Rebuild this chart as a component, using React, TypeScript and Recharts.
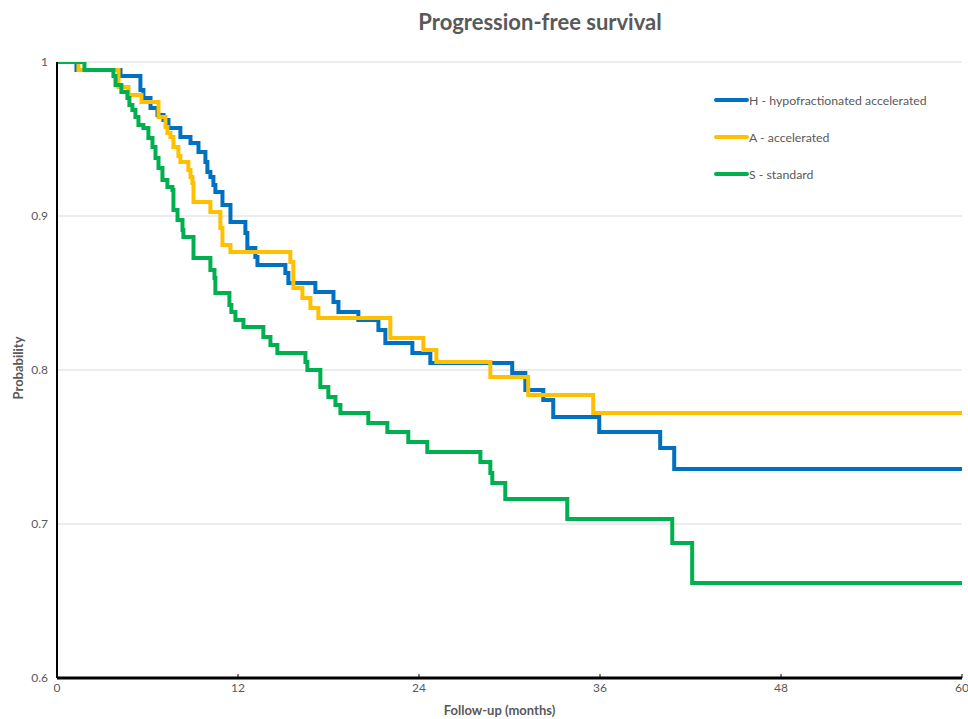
import React from 'react';
import { LineChart, Line, XAxis, YAxis, CartesianGrid } from 'recharts';

const seriesNames = ['H - hypofractionated accelerated', 'A - accelerated', 'S - standard'];
const seriesColors = ['#0070C0', '#FFC000', '#00B050'];

const hMonths = [0, 1.29, 4.21, 5.53, 5.73, 6.2, 6.66, 7.06, 7.39, 8.18, 8.85, 9.38, 9.84, 9.97, 10.17, 10.37, 10.5, 10.97, 11.5, 12.49, 12.62, 13.15, 13.29, 15.14, 15.34, 17.13, 18.33, 18.66, 19.98, 21.31, 21.77, 23.56, 24.75, 30.18, 31.05, 32.24, 32.9, 35.95, 39.99, 40.92, 60];
const hProb = [1, 0.9948, 0.9909, 0.9818, 0.9766, 0.9701, 0.9656, 0.9623, 0.9571, 0.9513, 0.9474, 0.9416, 0.9351, 0.9286, 0.9253, 0.9201, 0.9156, 0.9071, 0.8961, 0.889, 0.8792, 0.8734, 0.8682, 0.863, 0.8565, 0.8506, 0.8442, 0.8377, 0.8325, 0.826, 0.8175, 0.811, 0.8045, 0.7981, 0.787, 0.7805, 0.7695, 0.7597, 0.7494, 0.7357, 0.7357];

const aMonths = [0, 1.42, 4.08, 4.74, 5.6, 6.73, 7.19, 7.32, 7.52, 7.72, 8.05, 8.18, 8.71, 8.85, 8.98, 9.05, 10.17, 10.83, 10.97, 11.5, 15.47, 15.67, 16.27, 16.8, 17.33, 22.1, 24.29, 25.15, 28.73, 31.24, 35.55, 60];
const aProb = [1, 0.9948, 0.9838, 0.9786, 0.974, 0.9643, 0.9578, 0.9539, 0.9513, 0.9448, 0.939, 0.9351, 0.9299, 0.9253, 0.9214, 0.9091, 0.9026, 0.8922, 0.8812, 0.8766, 0.8701, 0.8532, 0.8468, 0.8403, 0.8338, 0.8208, 0.813, 0.8052, 0.7955, 0.7838, 0.7721, 0.7721];

const sMonths = [0, 1.82, 3.74, 3.88, 4.27, 4.67, 4.8, 5.0, 5.2, 5.4, 5.73, 6.06, 6.33, 6.53, 6.73, 6.99, 7.32, 7.65, 7.72, 7.99, 8.32, 8.38, 9.05, 10.17, 10.44, 10.5, 11.43, 11.56, 11.83, 12.36, 13.68, 14.15, 14.61, 16.47, 16.6, 17.46, 17.99, 18.46, 18.79, 20.64, 21.9, 23.29, 24.55, 28.07, 28.73, 28.86, 29.72, 33.83, 40.79, 42.11, 60];
const sProb = [1, 0.9948, 0.9909, 0.9851, 0.9805, 0.9766, 0.9721, 0.9688, 0.9643, 0.9591, 0.9571, 0.9506, 0.9448, 0.9377, 0.9312, 0.9234, 0.9188, 0.9169, 0.9039, 0.8974, 0.8909, 0.8864, 0.8727, 0.8649, 0.8597, 0.85, 0.8422, 0.8377, 0.8325, 0.8279, 0.8214, 0.8162, 0.811, 0.8052, 0.8, 0.789, 0.7825, 0.7773, 0.7721, 0.7656, 0.7597, 0.7532, 0.7468, 0.7403, 0.7331, 0.7266, 0.7162, 0.7032, 0.6877, 0.6617, 0.6617];

const xTicks = [0, 12, 24, 36, 48, 60];
const yTicks = [0.6, 0.7, 0.8, 0.9, 1];

const zip = (m: number[], p: number[]) => m.map((t, i) => ({ t, p: p[i] }));
const seriesData = [zip(hMonths, hProb), zip(aMonths, aProb), zip(sMonths, sProb)];

const FONT = 'Lato, "Open Sans", sans-serif';
const GREY = '#595959';

const XTick = (props: any) => {
  const { x, y, payload } = props;
  return (
    <g>
      <line x1={x} x2={x} y1={y - 5 - 4} y2={y - 5} stroke="#000" strokeWidth={1} />
      <text x={x} y={y} dy="0.71em" textAnchor="middle" fill={GREY} fontSize={12} fontFamily={FONT}>
        {payload.value}
      </text>
    </g>
  );
};

export default function App() {
  return (
    <div style={{ position: 'relative', width: 968, height: 719, overflow: 'hidden' }}>
      <style>{'body{margin:0;}'}</style>
      <div style={{ position: 'absolute', left: 8, top: 8, width: 960, height: 711 }}>
        <div
          style={{
            position: 'absolute',
            left: 282,
            width: 500,
            top: 0,
            textAlign: 'center',
            fontFamily: FONT,
            fontWeight: 700,
            fontSize: 22,
            color: GREY,
            zIndex: 2,
          }}
        >
          Progression-free survival
        </div>
        <div
          style={{
            position: 'absolute',
            left: 706,
            top: 73.5,
            width: 260,
            fontFamily: FONT,
            fontSize: 12.3,
            color: GREY,
            zIndex: 2,
          }}
        >
          {seriesNames.map((n, i) => (
            <div key={n} style={{ height: 37, display: 'flex', alignItems: 'center' }}>
              <svg width={35} height={8} style={{ display: 'block' }}>
                <line x1={2} x2={33} y1={4} y2={4} stroke={seriesColors[i]} strokeWidth={4} strokeLinecap="round" />
              </svg>
              <span>{n}</span>
            </div>
          ))}
        </div>
        <LineChart width={1000} height={711} margin={{ top: 54, right: 46, left: 8, bottom: 0 }}>
          <CartesianGrid vertical={false} stroke="#d9d9d9" strokeWidth={1} />
          <XAxis
            type="number"
            dataKey="t"
            domain={[0, 60]}
            ticks={xTicks}
            height={41}
            tickSize={0}
            tickMargin={5}
            tickLine={false}
            axisLine={{ stroke: '#000', strokeWidth: 3 }}
            tick={<XTick />}
            allowDataOverflow
            label={{
              value: 'Follow-up (months)',
              position: 'insideBottom',
              offset: 0,
              dx: -10,
              dy: -4,
              fill: GREY,
              fontSize: 13,
              fontWeight: 700,
              fontFamily: FONT,
            }}
          />
          <YAxis
            type="number"
            domain={[0.6, 1]}
            ticks={yTicks}
            width={41}
            tickSize={0}
            tickMargin={9}
            tickLine={false}
            axisLine={{ stroke: '#000', strokeWidth: 2 }}
            tick={{ fill: GREY, fontSize: 12, fontFamily: FONT }}
            allowDataOverflow
            label={{
              content: (p: any) => {
                const vb = p.viewBox || {};
                const cy = (vb.y || 0) + (vb.height || 0) / 2;
                return (
                  <text
                    x={10}
                    y={cy - 2}
                    transform={`rotate(-90, 10, ${cy - 2})`}
                    textAnchor="middle"
                    dominantBaseline="central"
                    fill={GREY}
                    fontSize={13}
                    fontWeight={700}
                    fontFamily={FONT}
                  >
                    Probability
                  </text>
                );
              },
            }}
          />
          {seriesData.map((d, i) => (
            <Line
              key={seriesNames[i]}
              data={d}
              dataKey="p"
              name={seriesNames[i]}
              type="stepAfter"
              stroke={seriesColors[i]}
              strokeWidth={4}
              dot={false}
              activeDot={false}
              isAnimationActive={false}
            />
          ))}
        </LineChart>
      </div>
    </div>
  );
}
